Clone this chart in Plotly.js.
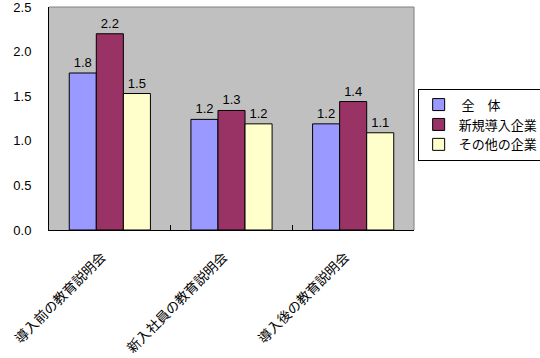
<!DOCTYPE html>
<html>
<head>
<meta charset="utf-8">
<script src="https://cdn.plot.ly/plotly-3.0.1.min.js"></script>
<style>html,body{margin:0;padding:0;background:#fff;}#chart{width:540px;height:358px;}</style>
</head>
<body>
<div id="chart"></div>
<script>
var categories = ["導入前の教育説明会", "新入社員の教育説明会", "導入後の教育説明会"];
var seriesNames = [" 全　体", "新規導入企業", "その他の企業"];
var allCompanies = [1.76, 1.24, 1.19];
var newCompanies = [2.2, 1.34, 1.44];
var otherCompanies = [1.53, 1.19, 1.09];
var yTicks = [0, 0.5, 1.0, 1.5, 2.0, 2.5];

var colors = ["#9999FF", "#993366", "#FFFFCC"];
var values = [allCompanies, newCompanies, otherCompanies];
var font = "Noto Sans CJK JP, Noto Sans, sans-serif";
var numFont = "Liberation Sans, Arial, sans-serif";

var traces = values.map(function (v, i) {
  return {
    type: "bar",
    name: seriesNames[i],
    x: categories,
    y: v,
    marker: { color: colors[i], line: { color: "#000000", width: 1 } },
    texttemplate: "%{y:.1f}",
    textposition: "outside",
    constraintext: "none",
    cliponaxis: false,
    textfont: { family: numFont, size: 13, color: "#000000" },
    hoverinfo: "skip"
  };
});

var layout = {
  width: 540,
  height: 358,
  margin: { l: 49, r: 126, t: 7, b: 128, autoexpand: false },
  paper_bgcolor: "#FFFFFF",
  plot_bgcolor: "#C0C0C0",
  barmode: "group",
  bargap: 0.333,
  bargroupgap: 0,
  font: { family: font, size: 12, color: "#000000" },
  showlegend: true,
  legend: {
    x: 1.01, y: 0.634, xanchor: "left", yanchor: "top",
    bgcolor: "#FFFFFF", bordercolor: "#000000", borderwidth: 1,
    font: { family: font, size: 13, color: "#000000" },
    itemwidth: 30,
    tracegroupgap: 0
  },
  xaxis: {
    type: "category",
    showline: true, linecolor: "#000000", linewidth: 1,
    ticks: "inside", tickson: "boundaries", ticklen: 5, tickcolor: "#000000",
    tickangle: -45,
    ticklabelstandoff: 13,
    ticklabelshift: -8,
    tickfont: { family: font, size: 13.5, color: "#000000" },
    showgrid: false, zeroline: false, fixedrange: true
  },
  yaxis: {
    range: [0, 2.5],
    tickvals: yTicks,
    ticktext: yTicks.map(function (t) { return t.toFixed(1); }),
    showline: true, linecolor: "#000000", linewidth: 1,
    ticks: "", ticklabelstandoff: 14,
    ticklabeloverflow: "allow",
    tickfont: { family: numFont, size: 13, color: "#000000" },
    showgrid: false, zeroline: false, fixedrange: true
  },
  shapes: [
    { type: "line", xref: "paper", yref: "paper", x0: 0, x1: 1, y0: 1, y1: 1, line: { color: "#808080", width: 1 } },
    { type: "line", xref: "paper", yref: "paper", x0: 1, x1: 1, y0: 0, y1: 1, line: { color: "#808080", width: 1 } }
  ]
};

Plotly.newPlot("chart", traces, layout, { staticPlot: true, displayModeBar: false });
</script>
</body>
</html>
